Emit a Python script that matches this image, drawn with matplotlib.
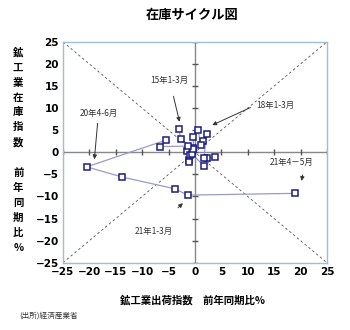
import matplotlib
matplotlib.use('Agg')
import matplotlib.pyplot as plt
import numpy as np

plt.rcParams['font.family'] = ['Noto Sans CJK JP', 'DejaVu Sans']

# shipments / inventory, year-on-year %, quarterly 2015 Q1 .. 2021 Apr-May
shipments = [-3.0, -2.7, -0.4, -1.6, -1.1, -1.1, -0.9, -0.6, 1.7, 3.8, 2.3, 1.7, 2.2,
             1.6, 1.1, 0.6, -0.3, -0.3, -1.3, -6.6, -5.4, -20.5, -13.8, -3.7, -1.4, 18.9]
inventory = [5.2, 3.0, 1.0, 0.3, -1.8, -2.3, -0.7, -0.3, -3.1, -1.1, -1.3, -1.4, 4.1,
             2.6, 1.7, 5.0, 3.5, 0.8, 1.4, 1.3, 2.8, -3.3, -5.6, -8.3, -9.7, -9.3]
ticks = [-25, -20, -15, -10, -5, 0, 5, 10, 15, 20, 25]

# callouts: text, text position, arrow start, arrow tip
callouts = [
    ('15年1-3月', (-4.9, 16.3), (-4.2, 13.3), (-2.8, 6.3)),
    ('18年1-3月', (15.2, 10.6), (11.0, 10.4), (2.8, 5.9)),
    ('20年4-6月', (-18.2, 8.8), (-18.4, 7.2), (-19.1, -2.2)),
    ('21年4－5月', (18.3, -2.2), (20.5, -4.5), (20.1, -7.1)),
    ('21年1-3月', (-7.8, -18.0), (-3.6, -13.0), (-1.9, -11.1)),
]

fig = plt.figure(figsize=(3.5, 3.3), dpi=100)
ax = fig.add_axes([0.18, 0.204, 0.754, 0.669])
ax.set_xlim(-25, 25)
ax.set_ylim(-25, 25)

# diagonal guides
ax.plot([-25, 25], [-25, 25], ls=(0, (3, 3)), color='#555555', lw=0.6)
ax.plot([-25, 25], [25, -25], ls=(0, (3, 3)), color='#555555', lw=0.6)

# zero axes with their own tick marks
ax.axhline(0, color='#888888', lw=1.0)
ax.axvline(0, color='#888888', lw=1.0)
ax.plot(ticks, np.zeros(len(ticks)), ls='none', marker='|', ms=5, color='#555555', mew=1.0)
ax.plot(np.zeros(len(ticks)), ticks, ls='none', marker='_', ms=5, color='#555555', mew=1.0)

ax.plot(shipments, inventory, color='#9a9ac8', lw=0.9, zorder=3)
ax.plot(shipments, inventory, ls='none', marker='s', ms=4.0, mfc='white',
        mec='#1c1c80', mew=1.1, zorder=4)

for text, tpos, start, tip in callouts:
    ax.text(tpos[0], tpos[1], text, ha='center', va='center', fontsize=6, color='#333333')
    ax.annotate('', xy=tip, xytext=start,
                arrowprops=dict(arrowstyle='-|>', color='#333333', lw=0.7,
                                mutation_scale=6))

ax.set_xticks(ticks)
ax.set_yticks(ticks)
ax.tick_params(length=0, labelsize=7.5, pad=3)
for lab in ax.get_xticklabels() + ax.get_yticklabels():
    lab.set_fontweight('bold')
    lab.set_fontfamily(['DejaVu Sans'])
for s in ax.spines.values():
    s.set_color('#9fbcd8')
    s.set_linewidth(1.0)

fig.text(0.55, 0.955, '在庫サイクル図', ha='center', va='center', fontsize=9.5, fontweight='bold')
fig.text(0.55, 0.09, '鉱工業出荷指数　前年同期比%', ha='center', va='center',
         fontsize=7.5, fontweight='bold')
fig.text(0.055, 0.045, '(出所)経済産業省', ha='left', va='center', fontsize=5.5, color='#333333')
fig.text(0.052, 0.545, '\n'.join('鉱工業在庫指数 前年同期比%').replace(' ', ''),
         ha='center', va='center', fontsize=7.5, fontweight='bold', linespacing=1.62)

fig.savefig('out.png', dpi=100, facecolor='white')
